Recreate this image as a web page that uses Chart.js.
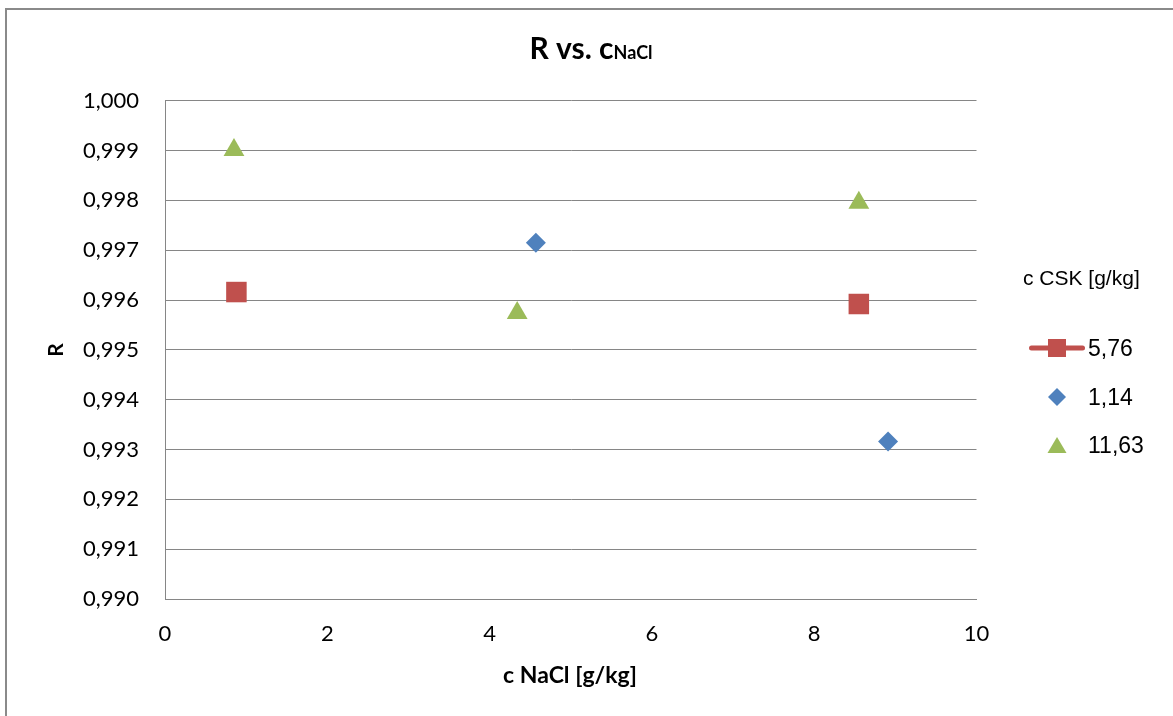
<!DOCTYPE html>
<html>
<head>
<meta charset="utf-8">
<title>R vs. cNaCl</title>
<script src="https://cdn.jsdelivr.net/npm/chart.js@4.4.1/dist/chart.umd.min.js"></script>
<style>
  html, body { margin: 0; padding: 0; background: #fff; }
  #wrap { width: 1173px; height: 716px; }
</style>
</head>
<body>
<div id="wrap"><canvas id="grafico" width="1173" height="716"></canvas></div>
<script>
// dados
const seriesNames = ['5,76', '1,14', '11,63'];
const seriesColors = ['#C0504D', '#4F81BD', '#9BBB59'];
const xCsk576 = [0.88, 8.55];
const yCsk576 = [0.99616, 0.99592];
const xCsk114 = [4.57, 8.91];
const yCsk114 = [0.99715, 0.99316];
const xCsk1163 = [0.85, 4.34, 8.55];
const yCsk1163 = [0.99901, 0.99574, 0.99795];
const xTicks = [0, 2, 4, 6, 8, 10];
const yTicks = [0.990, 0.991, 0.992, 0.993, 0.994, 0.995, 0.996, 0.997, 0.998, 0.999, 1.000];

const toPoints = (xs, ys) => xs.map((x, i) => ({ x, y: ys[i] }));
const fmt = v => v.toFixed(3).replace('.', ',');
const gridColor = '#868686';

// moldura, títulos e legenda desenhados à mão (estilo Excel)
const extras = {
  id: 'extras',
  beforeDraw(chart) {
    const ctx = chart.ctx;
    ctx.save();
    ctx.fillStyle = '#fff';
    ctx.fillRect(0, 0, chart.width, chart.height);
    ctx.strokeStyle = '#8a8a8a';
    ctx.lineWidth = 2;
    ctx.beginPath();
    ctx.moveTo(6, chart.height);
    ctx.lineTo(6, 9);
    ctx.lineTo(chart.width, 9);
    ctx.stroke();
    ctx.restore();
  },
  afterDraw(chart) {
    const ctx = chart.ctx;
    ctx.save();
    ctx.fillStyle = '#000';
    ctx.textBaseline = 'alphabetic';

    // título: R vs. c(NaCl)
    const big = 'bold 30px Lato';
    const small = 'bold 18px Lato';
    ctx.font = big;
    const w1 = ctx.measureText('R vs. c').width;
    ctx.font = small;
    const w2 = ctx.measureText('NaCl').width;
    let tx = 591 - (w1 + w2) / 2;
    ctx.textAlign = 'left';
    ctx.font = big;
    ctx.fillText('R vs. c', tx, 59);
    ctx.font = small;
    ctx.fillText('NaCl', tx + w1, 59);

    // títulos dos eixos
    ctx.textAlign = 'center';
    ctx.font = 'bold 23px Lato';
    ctx.fillText('c NaCl [g/kg]', 570, 683);
    ctx.save();
    ctx.translate(63, 350);
    ctx.rotate(-Math.PI / 2);
    ctx.font = 'bold 21px Lato';
    ctx.fillText('R', 0, 0);
    ctx.restore();

    // legenda
    ctx.textAlign = 'left';
    ctx.font = '21px "Liberation Sans", Arial';
    ctx.fillText('c CSK [g/kg]', 1023, 285);
    ctx.font = '23px "Liberation Sans", Arial';
    const rows = [348, 397, 445];
    const mx = 1057;
    // 5,76 : linha + quadrado
    ctx.strokeStyle = seriesColors[0];
    ctx.lineWidth = 5;
    ctx.lineCap = 'round';
    ctx.beginPath();
    ctx.moveTo(1031.5, rows[0]);
    ctx.lineTo(1082.5, rows[0]);
    ctx.stroke();
    ctx.fillStyle = seriesColors[0];
    ctx.fillRect(mx - 9, rows[0] - 9, 18, 18);
    // 1,14 : losango
    ctx.fillStyle = seriesColors[1];
    ctx.beginPath();
    ctx.moveTo(mx, rows[1] - 9);
    ctx.lineTo(mx + 9, rows[1]);
    ctx.lineTo(mx, rows[1] + 9);
    ctx.lineTo(mx - 9, rows[1]);
    ctx.closePath();
    ctx.fill();
    // 11,63 : triângulo
    ctx.fillStyle = seriesColors[2];
    ctx.beginPath();
    ctx.moveTo(mx, rows[2] - 8);
    ctx.lineTo(mx + 9.5, rows[2] + 8);
    ctx.lineTo(mx - 9.5, rows[2] + 8);
    ctx.closePath();
    ctx.fill();
    ctx.fillStyle = '#000';
    const textY = [356, 405, 453];
    seriesNames.forEach((n, i) => ctx.fillText(n, 1088, textY[i]));
    ctx.restore();
  }
};

const ctx = document.getElementById('grafico').getContext('2d');

document.fonts.load('bold 29px Lato').then(() => document.fonts.load('22px Lato')).finally(() => {
  new Chart(ctx, {
    type: 'scatter',
    data: {
      datasets: [
        { label: seriesNames[0], data: toPoints(xCsk576, yCsk576), pointStyle: 'rect', pointRadius: 14.5,
          backgroundColor: seriesColors[0], borderColor: seriesColors[0], borderWidth: 0, showLine: false, clip: false },
        { label: seriesNames[1], data: toPoints(xCsk114, yCsk114), pointStyle: 'rectRot', pointRadius: 10,
          backgroundColor: seriesColors[1], borderColor: seriesColors[1], borderWidth: 0, clip: false },
        { label: seriesNames[2], data: toPoints(xCsk1163, yCsk1163), pointStyle: 'triangle', pointRadius: 12,
          backgroundColor: seriesColors[2], borderColor: seriesColors[2], borderWidth: 0, clip: false }
      ]
    },
    options: {
      responsive: false,
      animation: false,
      events: [],
      layout: { padding: { left: 0, top: 100.7, right: 196.5, bottom: 0 } },
      plugins: {
        legend: { display: false },
        title: { display: false },
        tooltip: { enabled: false }
      },
      scales: {
        x: {
          type: 'linear',
          min: 0, max: 10,
          afterFit: s => { s.height = 117; },
          afterBuildTicks: s => { s.ticks = xTicks.map(v => ({ value: v })); },
          grid: { display: false, drawTicks: false },
          border: { display: true, color: gridColor, width: 1 },
          ticks: { color: '#000', padding: 22, font: { family: 'Lato', size: 22 }, maxRotation: 0 }
        },
        y: {
          type: 'linear',
          min: 0.990, max: 1.000,
          afterFit: s => { s.width = 165; },
          afterBuildTicks: s => { s.ticks = yTicks.map(v => ({ value: v })); },
          grid: { color: gridColor, lineWidth: 1, drawTicks: false },
          border: { display: true, color: gridColor, width: 1 },
          ticks: { color: '#000', padding: 26, font: { family: 'Lato', size: 22 }, callback: v => fmt(v) }
        }
      }
    },
    plugins: [extras]
  });
});
</script>
</body>
</html>
